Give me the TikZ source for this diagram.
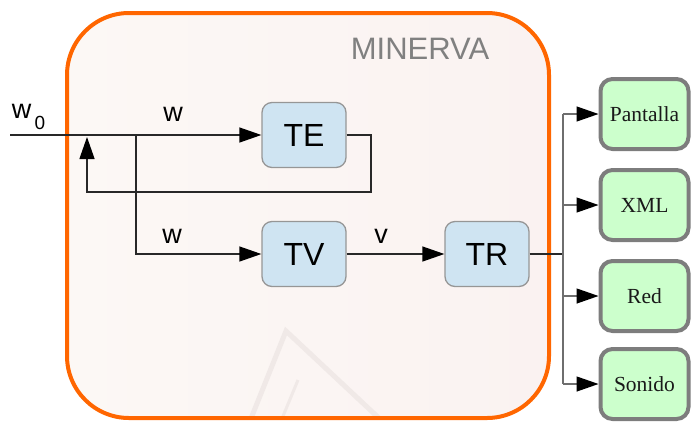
\documentclass[tikz,border=0pt]{standalone}
\usepackage{fontspec}
\setmainfont{Liberation Serif}
\setsansfont{Liberation Sans}
\usetikzlibrary{arrows.meta}

\definecolor{frameorange}{RGB}{255,102,0}
\definecolor{panelleft}{RGB}{252,248,245}
\definecolor{panelright}{RGB}{250,242,241}
\definecolor{blockblue}{RGB}{207,228,242}
\definecolor{blockedge}{RGB}{150,150,150}
\definecolor{sinkgreen}{RGB}{204,255,204}
\definecolor{sinkedge}{RGB}{125,125,125}
\definecolor{wirecol}{RGB}{40,40,40}
\definecolor{busgray}{RGB}{110,110,110}
\definecolor{titlegray}{RGB}{128,128,128}
\definecolor{markcol}{RGB}{240,233,231}

\tikzset{
  block/.style={draw=blockedge, line width=1.3pt, fill=blockblue, rounded corners=10pt,
    minimum width=84pt, minimum height=65pt, inner sep=0pt,
    font=\sffamily\fontsize{32}{36}\selectfont, text=black},
  sink/.style={draw=sinkedge, line width=4pt, fill=sinkgreen, rounded corners=12pt,
    minimum width=88pt, minimum height=70pt, inner sep=0pt,
    font=\fontsize{21.5}{25}\selectfont, text=black!90},
  wire/.style={draw=wirecol, line width=1.3pt},
  bus/.style={draw=busgray, line width=1.3pt},
  arrow/.style={-{Triangle[length=22pt,width=15pt,black]}},
  sig/.style={font=\sffamily\fontsize{27}{32}\selectfont, inner sep=0pt, text=black}
}

\begin{document}
\begin{tikzpicture}[x=1pt,y=-1pt]
  \useasboundingbox (0,0) rectangle (693,421);

  % system frame
  \path[left color=panelleft, right color=panelright, rounded corners=62pt]
    (67,13) rectangle (549,418);
  \begin{scope}
    \clip[rounded corners=62pt] (67,13) rectangle (549,418);
    \draw[markcol, line width=5pt, line join=miter]
      (250,421) -- (286,331) -- (382,421);
    \draw[markcol, line width=3pt] (298,380) -- (281,421);
  \end{scope}
  \draw[frameorange, line width=4pt, rounded corners=62pt]
    (67,13) rectangle (549,418);
  \node[font=\sffamily\fontsize{31}{36}\selectfont, text=titlegray, inner sep=0pt]
    (title) at (420,49) {MINERVA};

  % processing blocks
  \node[block] (TE) at (304,135) {TE};
  \node[block] (TV) at (304,254) {TV};
  \node[block] (TR) at (487,254) {TR};

  % output sinks
  \node[sink] (pan) at (644.5,114) {Pantalla};
  \node[sink] (xml) at (644.5,205) {XML};
  \node[sink] (red) at (644.5,296) {Red};
  \node[sink] (son) at (644.5,384) {Sonido};

  % input and branch points
  \coordinate (in) at (10,135);
  \coordinate (split) at (136,135);
  \coordinate (fbup) at (87,137);
  \coordinate (fbcorner) at (371,192);
  \coordinate (fbleft) at (87,192);
  \coordinate (bustop) at (563,114);
  \coordinate (busbot) at (563,384);
  \coordinate (busin) at (563,254);

  % input to TE, branch to TV
  \draw[wire, arrow] (in) -- (TE.west);
  \draw[wire, arrow] (split) |- (TV.west);
  % feedback from TE
  \draw[wire, arrow] (TE.east) -| (fbcorner) -- (fbleft) -- (fbup);
  % TV to TR
  \draw[wire, arrow] (TV.east) -- (TR.west);
  % TR to the sinks
  \draw[wire] (TR.east) -- (busin);
  \draw[bus] (bustop) -- (busbot);
  \draw[bus, arrow] (bustop) -- (pan.west);
  \draw[bus, arrow] (xml.west -| busin) -- (xml.west);
  \draw[bus, arrow] (red.west -| busin) -- (red.west);
  \draw[bus, arrow] (busbot) -- (son.west);

  % signal labels
  \node[sig] (w0) at (21.5,111.5) {w};
  \node[sig, font=\sffamily\fontsize{19}{22}\selectfont] (w0sub) at (40,122.5) {0};
  \node[sig] (wTE) at (173,114) {w};
  \node[sig] (wTV) at (172,236) {w};
  \node[sig] (vTR) at (381,236) {v};
\end{tikzpicture}
\end{document}
